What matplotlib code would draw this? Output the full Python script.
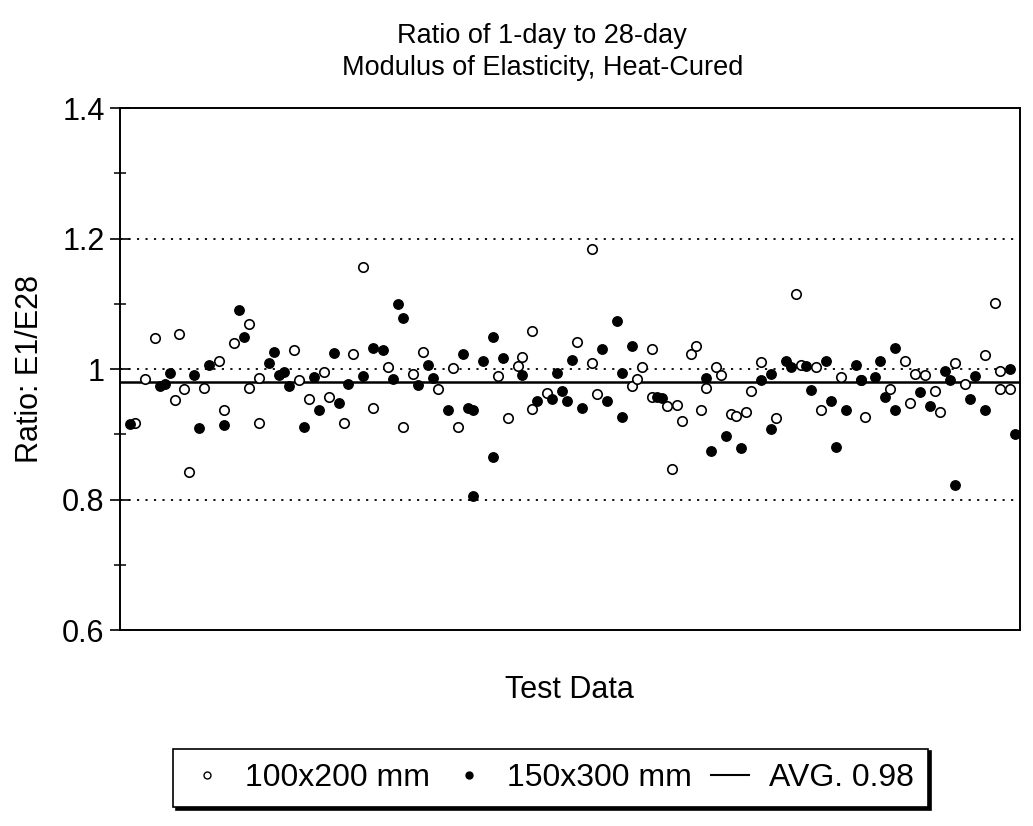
import matplotlib
matplotlib.use("Agg")
import matplotlib.pyplot as plt
from matplotlib.lines import Line2D
from matplotlib.ticker import MultipleLocator

plt.rcParams['font.family'] = ['Liberation Sans', 'DejaVu Sans']

# 100x200 mm cylinders: test number and E1/E28 ratio
small_test = [2, 4, 6, 10, 11, 12, 13, 16, 19, 20, 22, 25, 25, 27, 27, 34, 35, 37, 40, 41,
              44, 46, 48, 50, 53, 56, 58, 60, 63, 66, 67, 75, 77, 79, 80, 82, 82, 85, 91, 94,
              94, 95, 102, 103, 104, 106, 106, 109, 110, 111, 112, 114, 115, 116, 117, 119, 120,
              122, 123, 125, 126, 128, 131, 135, 136, 139, 140, 144, 148, 149, 154, 157, 158,
              159, 161, 163, 164, 167, 169, 173, 175, 176, 176, 178]
small_ratio = [0.917, 0.985, 1.048, 0.953, 1.054, 0.970, 0.843, 0.971, 1.013, 0.938, 1.040,
               1.069, 0.971, 0.986, 0.918, 1.029, 0.984, 0.955, 0.996, 0.958, 0.918, 1.024,
               1.156, 0.940, 1.004, 0.912, 0.993, 1.026, 0.969, 1.002, 0.912, 0.990, 0.925,
               1.005, 1.019, 1.058, 0.939, 0.964, 1.042, 1.185, 1.010, 0.962, 0.974, 0.985,
               1.003, 1.031, 0.958, 0.943, 0.847, 0.945, 0.921, 1.023, 1.035, 0.938, 0.971,
               1.003, 0.991, 0.932, 0.929, 0.935, 0.966, 1.011, 0.925, 1.115, 1.007, 1.004,
               0.938, 0.988, 0.983, 0.927, 0.970, 1.013, 0.948, 0.993, 0.991, 0.966, 0.934,
               1.009, 0.977, 1.022, 1.102, 0.998, 0.969, 0.969]

# 150x300 mm cylinders: test number and E1/E28 ratio
large_test = [1, 7, 8, 9, 14, 15, 17, 20, 23, 24, 29, 30, 31, 32, 33, 36, 38, 39, 42, 43,
              45, 48, 50, 52, 54, 55, 56, 59, 61, 62, 65, 68, 69, 70, 70, 72, 74, 74, 76, 80,
              83, 86, 87, 88, 89, 90, 92, 96, 97, 99, 100, 100, 102, 107, 108, 117, 118, 121,
              124, 128, 130, 130, 133, 134, 137, 138, 141, 142, 143, 145, 147, 148, 151, 152,
              153, 155, 155, 160, 162, 165, 166, 167, 170, 171, 173, 178, 179]
large_ratio = [0.916, 0.975, 0.977, 0.994, 0.991, 0.910, 1.007, 0.914, 1.090, 1.050, 1.009,
               1.027, 0.991, 0.995, 0.975, 0.912, 0.988, 0.937, 1.025, 0.949, 0.977, 0.989,
               1.033, 1.029, 0.985, 1.100, 1.078, 0.976, 1.006, 0.987, 0.937, 1.023, 0.941,
               0.938, 0.805, 1.013, 1.050, 0.866, 1.017, 0.991, 0.952, 0.954, 0.994, 0.967,
               0.951, 1.014, 0.941, 1.031, 0.951, 1.074, 0.994, 0.927, 1.035, 0.958, 0.956,
               0.987, 0.874, 0.898, 0.880, 0.983, 0.993, 0.908, 1.012, 1.003, 1.005, 0.968,
               1.013, 0.952, 0.881, 0.937, 1.007, 0.983, 0.988, 1.012, 0.958, 1.033, 0.938,
               0.965, 0.944, 0.998, 0.984, 0.823, 0.955, 0.990, 0.937, 1.000, 0.901]

avg_ratio = 0.98
guide_levels = [0.8, 1.0, 1.2]
y_ticks = [0.6, 0.8, 1.0, 1.2, 1.4]
y_tick_labels = ["0.6", "0.8", "1", "1.2", "1.4"]

fig = plt.figure(figsize=(10.33, 8.26), dpi=100)
ax = fig.add_axes([0.116, 0.237, 0.871, 0.632])

for lvl in guide_levels:
    ax.axhline(lvl, color='black', linestyle=(0, (1.2, 3.5)), linewidth=1.3, zorder=1)

ax.axhline(avg_ratio, color='black', linewidth=1.8, zorder=2)

ax.plot(small_test, small_ratio, linestyle='none', marker='o', markersize=6.8,
        markerfacecolor='white', markeredgecolor='black', markeredgewidth=1.2, zorder=3)
ax.plot(large_test, large_ratio, linestyle='none', marker='o', markersize=6.8,
        markerfacecolor='black', markeredgecolor='black', markeredgewidth=1.0, zorder=4)

ax.set_xlim(-1, 180)
ax.set_ylim(0.6, 1.4)
ax.set_xticks([])
ax.set_yticks(y_ticks)
ax.set_yticklabels(y_tick_labels)
ax.yaxis.set_minor_locator(MultipleLocator(0.1))
ax.tick_params(axis='y', which='major', direction='inout', length=14, width=1.2,
               labelsize=22, pad=4)
ax.tick_params(axis='y', which='minor', direction='inout', length=9, width=1.1)
for sp in ax.spines.values():
    sp.set_linewidth(1.4)

ax.set_ylabel("Ratio: E1/E28", fontsize=22, labelpad=12)
ax.set_xlabel("Test Data", fontsize=22, labelpad=32)

fig.text(0.525, 0.937, "Ratio of 1-day to 28-day\nModulus of Elasticity, Heat-Cured",
         ha='center', va='center', fontsize=19.5, linespacing=1.3)

handles = [
    Line2D([], [], linestyle='none', marker='o', markersize=5, markerfacecolor='white',
           markeredgecolor='black', markeredgewidth=1.0),
    Line2D([], [], linestyle='none', marker='o', markersize=5, markerfacecolor='black',
           markeredgecolor='black'),
    Line2D([], [], color='black', linewidth=1.5),
]
labels = ["100x200 mm", "150x300 mm", "AVG. 0.98"]
leg = fig.legend(handles, labels, ncol=3, loc='center', bbox_to_anchor=(0.533, 0.058),
                 fontsize=23, frameon=True, fancybox=False,
                 shadow={'color': 'black', 'alpha': 1.0},
                 handlelength=1.2, handletextpad=0.6, columnspacing=0.6,
                 borderpad=0.45, borderaxespad=0)
leg.get_frame().set_edgecolor('black')
leg.get_frame().set_linewidth(1.2)

fig.savefig("out.png", dpi=100, facecolor='white')
